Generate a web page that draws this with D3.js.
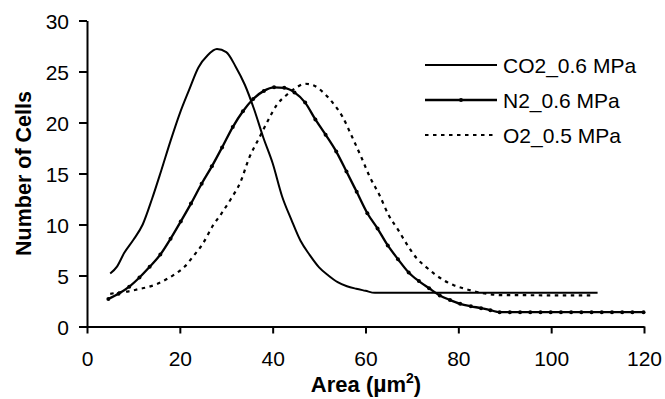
<!DOCTYPE html>
<html>
<head>
<meta charset="utf-8">
<script src="https://cdn.jsdelivr.net/npm/d3@7"></script>
<style>
html,body{margin:0;padding:0;background:#fff;}
svg{display:block;font-family:Arial,"Liberation Sans",sans-serif;}
</style>
</head>
<body>
<svg id="chart" width="665" height="399"></svg>
<script>
// ---- data ----
const xTicks = [0, 20, 40, 60, 80, 100, 120];
const yTicks = [0, 5, 10, 15, 20, 25, 30];
const seriesNames = ["CO2_0.6 MPa", "N2_0.6 MPa", "O2_0.5 MPa"];

const co2X = [5, 6.5, 8, 10, 12, 14, 16, 18, 20, 22, 24, 26, 28, 30, 32, 34, 36, 38, 40, 42, 44, 46, 48, 50, 52, 54, 56, 58, 60, 62, 110];
const co2Y = [5.2, 5.9, 7.2, 8.5, 10.0, 12.5, 15.3, 18.2, 20.9, 23.2, 25.4, 26.6, 27.2, 26.9, 25.5, 23.7, 21.3, 18.5, 16.0, 12.8, 10.5, 8.4, 7.0, 5.8, 5.0, 4.35, 3.95, 3.7, 3.5, 3.3, 3.3];

const n2X = [4.6, 6.8, 9.1, 11.3, 13.5, 15.8, 18.0, 20.2, 22.4, 24.7, 26.9, 29.1, 31.4, 33.6, 35.8, 38.1, 40.3, 42.5, 44.7, 47.0, 49.2, 51.4, 53.7, 55.9, 58.1, 60.4, 62.6, 64.8, 67.0, 69.3, 71.5, 73.7, 76.0, 78.2, 80.4, 82.7, 84.9, 86.9, 88.9, 91.1, 93.3, 95.5, 97.7, 99.9, 102.1, 104.3, 106.5, 108.7, 110.9, 113.1, 115.3, 117.5, 119.9];
const n2Y = [2.7, 3.2, 3.9, 4.8, 5.85, 7.05, 8.6, 10.3, 12.05, 14.0, 15.7, 17.55, 19.55, 21.1, 22.3, 23.1, 23.45, 23.4, 22.95, 21.95, 20.3, 18.8, 17.15, 15.2, 13.2, 11.1, 9.6, 7.95, 6.6, 5.3, 4.45, 3.75, 3.05, 2.6, 2.22, 1.98, 1.8, 1.6, 1.4, 1.4, 1.4, 1.4, 1.4, 1.4, 1.4, 1.4, 1.4, 1.4, 1.4, 1.4, 1.4, 1.4, 1.4];

const o2X = [5, 7, 9, 11, 13, 15, 17, 19, 21, 23, 25, 27, 29, 31, 33, 35, 37, 39, 41, 43, 45, 47, 49, 51, 53, 55, 57, 59, 61, 63, 65, 67, 69, 71, 73, 75, 77, 79, 81, 83, 85, 87, 89, 109];
const o2Y = [3.2, 3.35, 3.45, 3.65, 3.85, 4.15, 4.6, 5.15, 5.85, 6.95, 8.15, 9.8, 11.1, 12.5, 14.1, 16.6, 18.4, 20.2, 21.8, 22.7, 23.4, 23.8, 23.6, 22.9, 21.9, 20.6, 18.7, 16.7, 14.6, 12.9, 10.9, 9.5, 8.0, 6.7, 5.85, 5.1, 4.5, 4.05, 3.75, 3.5, 3.3, 3.15, 3.08, 3.05];

// ---- layout ----
const svg = d3.select("#chart");
const mLeft = 87, mRight = 644, mTop = 20.5, mBottom = 326.5;
const x = d3.scaleLinear().domain([0, 120]).range([mLeft, mRight]);
const y = d3.scaleLinear().domain([0, 30]).range([mBottom, mTop]);
const fontSize = 21;

const zip = (xs, ys) => xs.map((v, i) => ({x: v, y: ys[i]}));
const line = d3.line().x(d => x(d.x)).y(d => y(d.y)).curve(d3.curveMonotoneX);

// axes
const xAxis = svg.append("g").attr("transform", `translate(0,${mBottom})`)
  .call(d3.axisBottom(x).tickValues(xTicks).tickSize(7).tickPadding(18).tickSizeOuter(0));
const yAxis = svg.append("g").attr("transform", `translate(${mLeft},0)`)
  .call(d3.axisLeft(y).tickValues(yTicks).tickSize(8).tickPadding(10).tickSizeOuter(0));
[xAxis, yAxis].forEach(a => {
  a.select(".domain").attr("stroke", "#000").attr("stroke-width", 2);
  a.selectAll(".tick line").attr("stroke", "#000").attr("stroke-width", 2);
  a.selectAll(".tick text").attr("fill", "#000").style("font-size", fontSize + "px")
    .style("font-family", "Arial, 'Liberation Sans', sans-serif");
});
yAxis.selectAll(".tick text").attr("dy", "0.36em");

// series
svg.append("path").datum(zip(co2X, co2Y)).attr("d", line)
  .attr("fill", "none").attr("stroke", "#000").attr("stroke-width", 2);
svg.append("path").datum(zip(o2X, o2Y)).attr("d", line)
  .attr("fill", "none").attr("stroke", "#000").attr("stroke-width", 2.2)
  .attr("stroke-dasharray", "3.5,4.5");
svg.append("path").datum(zip(n2X, n2Y)).attr("d", line)
  .attr("fill", "none").attr("stroke", "#000").attr("stroke-width", 2.3);
svg.append("g").selectAll("circle").data(zip(n2X, n2Y)).join("circle")
  .attr("cx", d => x(d.x)).attr("cy", d => y(d.y)).attr("r", 2).attr("fill", "#000");

// legend
const legY = [65, 100, 135];
const lg = svg.append("g");
seriesNames.forEach((name, i) => {
  const ln = lg.append("line").attr("x1", 425).attr("x2", 497)
    .attr("y1", legY[i]).attr("y2", legY[i]).attr("stroke", "#000")
    .attr("stroke-width", i === 1 ? 2.3 : 2);
  if (i === 2) ln.attr("stroke-dasharray", "3.5,4.5").attr("x2", 494);
  if (i === 1) lg.append("circle").attr("cx", 461).attr("cy", legY[i]).attr("r", 2).attr("fill", "#000");
  lg.append("text").attr("x", 503).attr("y", legY[i]).attr("dy", "0.36em")
    .style("font-size", fontSize + "px").attr("fill", "#000").text(name);
});

// axis titles
svg.append("text").attr("x", 366).attr("y", 392)
  .attr("text-anchor", "middle").style("font-size", "22px").style("font-weight", "bold")
  .html('Area (<tspan style="font-size:23px">µ</tspan>m<tspan dy="-9" style="font-size:14px">2</tspan><tspan dy="9">)</tspan>');
svg.append("text").attr("transform", `translate(31,${(mTop + mBottom) / 2}) rotate(-90)`)
  .attr("text-anchor", "middle").style("font-size", "21.5px").style("font-weight", "bold")
  .text("Number of Cells");
</script>
</body>
</html>
